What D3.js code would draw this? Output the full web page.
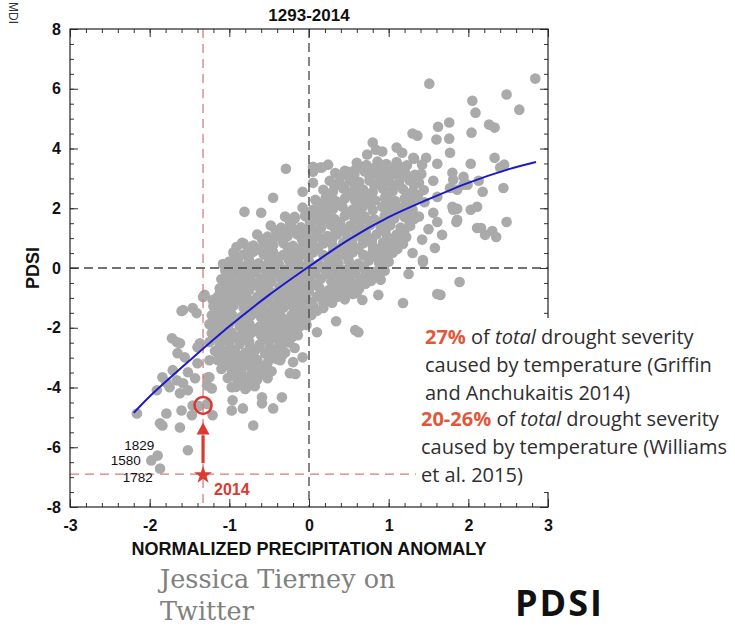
<!DOCTYPE html>
<html>
<head>
<meta charset="utf-8">
<script src="https://cdn.jsdelivr.net/npm/d3@7"></script>
<style>
  html, body { margin: 0; padding: 0; background: #fff; }
  svg { display: block; }
</style>
</head>
<body>
<svg id="chart" width="735" height="628"></svg>
<script>
// ---- data -------------------------------------------------------------
const chartTitle = "1293-2014";
const xTickValues = [-3, -2, -1, 0, 1, 2, 3];
const yTickValues = [-8, -6, -4, -2, 0, 2, 4, 6, 8];
const xAxisTitle = "NORMALIZED PRECIPITATION ANOMALY";
const yAxisTitle = "PDSI";

// [normalized precipitation anomaly, PDSI], one pair per year
const yearPoints = [
  // scattered years, upper right
  [1.51,6.17],[2.84,6.34],[2.48,5.81],[2.05,5.6],[2.64,5.3],[2.09,5.2],[2.26,4.8],[2.33,4.7],
  [1.76,4.87],[1.62,4.73],[2.04,4.53],[1.6,4.3],[1.76,4.33],[1.3,4.5],[1.36,4.43],[0.8,4.2],
  [0.73,3.8],[0.84,3.96],[0.92,3.9],[1.1,4.03],[1.17,3.86],[1.77,3.86],[1.32,3.66],[1.47,3.69],
  [1.31,3.69],[1.42,3.46],[1.61,3.49],[2.03,3.49],[2.33,3.69],[2.45,3.46],[2.4,3.36],[1.41,3.15],
  [1.8,3.19],[1.94,3.05],[2.13,2.92],[1.99,2.79],[1.56,2.92],[2.18,2.55],[2.44,2.68],[1.77,2.68],
  [1.81,2.95],[1.61,2.38],[1.86,2.62],[1.94,2.79],[1.56,1.85],[1.61,1.54],[1.81,1.95],[1.86,1.61],
  [1.67,1.11],[1.58,0.67],[1.43,0.27],[1.18,1.21],[1.11,0.94],[2.11,1.34],[2.03,1.95],[2.11,2.05],
  [1.8,2.05],[1.86,1.98],[1.85,1.54],[2.48,1.54],[2.16,1.34],[2.21,1.11],[2.3,1.24],[2.35,1.04],
  [1.89,-0.47],[1.65,-0.9],[1.43,0.2],[1.61,-0.87],[1.18,-1.17],[0.87,-0.9],
  [1.45,2.2],[1.5,1.3],[1.38,1.72],[1.42,0.95],[1.3,0.5],[1.25,-0.2],
  // scattered years, lower right of the cloud
  [0.62,-2.15],[0.34,-1.78],[0.1,-2.15],[-0.03,-1.91],[-0.05,-1.74],[-0.2,-1.31],[-0.28,-2.08],
  [-0.21,-2.31],[-0.18,-2.68],[-0.08,-2.99],[-0.34,-2.58],[-0.24,-3.52],[-0.17,-3.55],[-0.36,-3.09],
  [0.6,-0.84],[0.67,-1.07],[0.26,-0.97],[0.18,-1.17],[-0.53,-3.5],[-0.62,-3.32],[-0.45,-3.02],
  [-0.2,-3.15],[-0.34,-4.33],[-0.59,-4.33],[-0.14,-2.25],[0.58,-2.08],
  // scattered years, upper left of the cloud
  [-0.29,3.32],[0.05,3.39],[0.16,3.36],[0.24,3.46],[-0.45,2.35],[-0.81,1.88],[-0.6,1.85],
  [-0.18,1.71],[0.05,1.71],[-0.91,0.7],[-0.84,0.84],[-1.08,0.13],[0.14,3.36],[0.05,3.22],
  [0.49,3.22],[0.58,3.29],[0.05,2.85],[-0.08,2.55],[0.05,1.78],
  // scattered years, left and lower left
  [-1.33,-0.97],[-1.31,-0.9],[-1.58,-1.41],[-1.46,-1.34],[-1.41,-1.51],[-1.12,-0.84],[-1.21,-1.07],
  [-1.6,-1.44],[-1.72,-2.35],[-1.62,-2.52],[-1.66,-2.48],[-1.65,-2.85],[-1.56,-2.99],[-1.37,-2.52],
  [-1.71,-3.42],[-1.84,-3.66],[-1.79,-3.83],[-1.91,-4.09],[-1.75,-3.99],[-1.66,-3.76],[-1.58,-3.86],
  [-1.52,-3.49],[-1.43,-3.69],[-1.52,-4.09],[-1.62,-4.19],[-1.4,-2.65],[-1.4,-3.19],[-1.25,-3.09],
  [-1.27,-3.66],[-1.25,-3.66],[-1.28,-3.93],[-1.22,-4.03],[-0.91,-3.42],[-0.97,-3.99],[-0.78,-3.99],
  [-2.16,-4.87],[-1.79,-4.87],[-1.87,-5.2],[-1.84,-5.27],[-1.62,-5.34],[-1.6,-4.77],[-1.47,-4.93],
  [-1.46,-4.6],[-1.21,-4.93],[-1.28,-4.55],[-1.38,-4.62],[-0.96,-4.43],[-0.97,-4.77],[-0.83,-4.7],
  [-0.7,-5.27],[-0.59,-4.53],[-0.45,-4.7],[-1.52,-6.1],[-1.98,-6.44],[-1.9,-6.28],[-1.87,-6.71],
  // the main cloud
  [0.6,3.52],[0.72,3.45],[0.86,3.56],[0.97,3.48],[1.1,3.55],[1.23,3.44],
  [0.33,3.18],[0.45,3.25],[0.57,3.14],[0.7,3.23],[0.83,3.17],[0.95,3.27],[1.07,3.15],[1.2,3.22],[1.33,3.12],
  [0.26,2.92],[0.38,2.85],[0.51,2.96],[0.63,2.88],[0.76,2.93],[0.88,2.84],[1.0,2.95],[1.13,2.87],[1.26,2.94],[1.38,2.86],
  [0.18,2.62],[0.3,2.55],[0.43,2.66],[0.56,2.58],[0.68,2.63],[0.8,2.54],[0.93,2.65],[1.05,2.57],[1.18,2.64],[1.3,2.55],[1.44,2.61],
  [0.08,2.28],[0.21,2.35],[0.33,2.25],[0.45,2.33],[0.58,2.26],[0.7,2.36],[0.83,2.27],[0.95,2.34],[1.08,2.24],[1.2,2.32],[1.33,2.27],
  [-0.08,2.02],[0.05,1.95],[0.17,2.04],[0.3,1.97],[0.42,2.05],[0.55,1.96],[0.67,2.03],[0.8,1.94],[0.92,2.05],[1.05,1.97],[1.17,2.03],[1.3,1.95],
  [-0.3,1.72],[-0.18,1.65],[-0.05,1.74],[0.07,1.66],[0.2,1.73],[0.32,1.64],[0.45,1.75],[0.57,1.67],[0.7,1.72],[0.82,1.63],[0.95,1.74],[1.07,1.66],[1.2,1.71],[1.32,1.64],
  [-0.48,1.42],[-0.35,1.35],[-0.23,1.44],[-0.1,1.36],[0.02,1.43],[0.15,1.34],[0.27,1.45],[0.4,1.37],[0.52,1.42],[0.65,1.33],[0.77,1.44],[0.9,1.36],[1.02,1.43],[1.15,1.35],[1.27,1.41],
  [-0.65,1.12],[-0.52,1.05],[-0.4,1.14],[-0.27,1.06],[-0.15,1.13],[-0.02,1.04],[0.1,1.15],[0.23,1.07],[0.35,1.12],[0.48,1.03],[0.6,1.14],[0.73,1.06],[0.85,1.13],[0.98,1.05],[1.1,1.12],[1.22,1.04],
  [-0.82,0.82],[-0.7,0.75],[-0.57,0.84],[-0.45,0.76],[-0.32,0.83],[-0.2,0.74],[-0.07,0.85],[0.05,0.77],[0.18,0.82],[0.3,0.73],[0.43,0.84],[0.55,0.76],[0.68,0.83],[0.8,0.74],[0.93,0.85],[1.05,0.77],[1.18,0.81],
  [-0.95,0.52],[-0.82,0.45],[-0.7,0.54],[-0.57,0.46],[-0.45,0.53],[-0.32,0.44],[-0.2,0.55],[-0.07,0.47],[0.05,0.52],[0.18,0.43],[0.3,0.54],[0.43,0.46],[0.55,0.53],[0.68,0.44],[0.8,0.55],[0.93,0.47],[1.05,0.51],
  [-1.0,0.22],[-0.88,0.15],[-0.75,0.24],[-0.63,0.16],[-0.5,0.23],[-0.38,0.14],[-0.25,0.25],[-0.13,0.17],[0.0,0.22],[0.12,0.13],[0.25,0.24],[0.37,0.16],[0.5,0.23],[0.62,0.14],[0.75,0.25],[0.88,0.17],[1.0,0.21],
  [-1.05,-0.08],[-0.92,-0.15],[-0.8,-0.06],[-0.67,-0.14],[-0.55,-0.07],[-0.42,-0.16],[-0.3,-0.05],[-0.17,-0.13],[-0.05,-0.08],[0.08,-0.17],[0.2,-0.06],[0.33,-0.14],[0.45,-0.07],[0.58,-0.16],[0.7,-0.05],[0.83,-0.13],[0.95,-0.09],
  [-1.1,-0.38],[-0.97,-0.45],[-0.85,-0.36],[-0.72,-0.44],[-0.6,-0.37],[-0.47,-0.46],[-0.35,-0.35],[-0.22,-0.43],[-0.1,-0.38],[0.03,-0.47],[0.15,-0.36],[0.28,-0.44],[0.4,-0.37],[0.53,-0.46],[0.65,-0.35],[0.78,-0.43],[0.9,-0.39],
  [-1.12,-0.68],[-1.0,-0.75],[-0.87,-0.66],[-0.75,-0.74],[-0.62,-0.67],[-0.5,-0.76],[-0.37,-0.65],[-0.25,-0.73],[-0.12,-0.68],[0.0,-0.77],[0.13,-0.66],[0.25,-0.74],[0.38,-0.67],[0.5,-0.75],[0.63,-0.69],
  [-1.15,-0.98],[-1.02,-1.05],[-0.9,-0.96],[-0.77,-1.04],[-0.65,-0.97],[-0.52,-1.06],[-0.4,-0.95],[-0.27,-1.03],[-0.15,-0.98],[-0.02,-1.07],[0.1,-0.96],[0.23,-1.04],[0.35,-0.97],[0.45,-1.05],
  [-1.2,-1.28],[-1.07,-1.35],[-0.95,-1.26],[-0.82,-1.34],[-0.7,-1.27],[-0.57,-1.36],[-0.45,-1.25],[-0.32,-1.33],[-0.2,-1.28],[-0.07,-1.37],[0.05,-1.26],[0.18,-1.34],
  [-1.22,-1.58],[-1.1,-1.65],[-0.97,-1.56],[-0.85,-1.64],[-0.72,-1.57],[-0.6,-1.66],[-0.47,-1.55],[-0.35,-1.63],[-0.22,-1.58],[-0.1,-1.67],[0.03,-1.57],
  [-1.25,-1.88],[-1.12,-1.95],[-1.0,-1.86],[-0.87,-1.94],[-0.75,-1.87],[-0.62,-1.96],[-0.5,-1.85],[-0.37,-1.93],[-0.25,-1.88],[-0.12,-1.97],
  [-1.22,-2.18],[-1.1,-2.25],[-0.97,-2.16],[-0.85,-2.24],[-0.72,-2.17],[-0.6,-2.26],[-0.47,-2.15],[-0.35,-2.23],[-0.22,-2.19],
  [-1.25,-2.48],[-1.12,-2.55],[-1.0,-2.46],[-0.87,-2.54],[-0.75,-2.47],[-0.62,-2.56],[-0.5,-2.45],[-0.37,-2.53],[-0.25,-2.49],
  [-1.18,-2.78],[-1.05,-2.85],[-0.93,-2.76],[-0.8,-2.84],[-0.68,-2.77],[-0.55,-2.86],[-0.43,-2.75],[-0.3,-2.83],
  [-1.15,-3.08],[-1.02,-3.15],[-0.9,-3.06],[-0.77,-3.14],[-0.65,-3.07],[-0.52,-3.16],[-0.4,-3.05],
  [-1.1,-3.38],[-0.97,-3.45],[-0.85,-3.36],[-0.72,-3.44],[-0.6,-3.37],[-0.47,-3.46],
  [-1.02,-3.68],[-0.9,-3.75],[-0.77,-3.66],[-0.65,-3.74],[-0.52,-3.69],
  [-0.92,-3.98],[-0.8,-4.05],[-0.68,-3.96],
  // the main cloud, years between the rows above
  [0.66,3.36],[0.79,3.33],[0.91,3.38],[1.04,3.34],[1.16,3.37],
  [0.39,3.04],[0.51,3.07],[0.76,3.06],[0.89,3.02],[1.01,3.07],[1.14,3.04],[1.26,3.06],
  [0.32,2.76],[0.44,2.73],[0.57,2.77],[0.82,2.77],[0.94,2.73],[1.07,2.76],[1.32,2.77],
  [0.24,2.46],[0.49,2.47],[0.62,2.44],[0.74,2.46],[0.99,2.47],[1.24,2.46],[1.37,2.44],
  [0.14,2.16],[0.27,2.13],[0.39,2.17],[0.64,2.16],[0.77,2.13],[1.02,2.14],[1.27,2.13],
  [-0.02,1.86],[0.11,1.83],[0.23,1.87],[0.48,1.86],[0.61,1.83],[0.98,1.84],[1.11,1.86],[1.23,1.83],
  [-0.24,1.56],[0.01,1.57],[0.14,1.54],[0.26,1.56],[0.39,1.53],[0.64,1.54],[0.76,1.56],[0.89,1.53],[1.01,1.57],[1.26,1.56],
  [-0.42,1.26],[-0.29,1.23],[-0.17,1.27],[-0.04,1.24],[0.08,1.26],[0.33,1.27],[0.46,1.24],[0.58,1.26],[0.71,1.23],[0.96,1.24],[1.2,1.26],
  [-0.59,0.96],[-0.46,0.93],[-0.34,0.97],[-0.09,0.96],[0.04,0.93],[0.16,0.97],[0.29,0.94],[0.54,0.93],[0.67,0.97],[0.79,0.94],[1.04,0.93],
  [-0.76,0.66],[-0.64,0.63],[-0.51,0.67],[-0.26,0.66],[-0.14,0.63],[-0.01,0.67],[0.11,0.64],[0.36,0.63],[0.49,0.67],[0.62,0.64],[0.87,0.63],[0.99,0.67],[1.11,0.64],
  [-0.89,0.36],[-0.76,0.33],[-0.51,0.34],[-0.39,0.36],[-0.26,0.33],[-0.14,0.37],[-0.01,0.34],[0.24,0.33],[0.36,0.37],[0.49,0.34],[0.74,0.33],[0.86,0.37],[0.98,0.34],
  [-0.94,0.06],[-0.81,0.03],[-0.69,0.07],[-0.56,0.04],[-0.44,0.06],[-0.19,0.07],[-0.06,0.04],[0.06,0.06],[0.19,0.03],[0.31,0.07],[0.56,0.06],[0.69,0.03],[0.94,0.04],
  [-0.99,-0.24],[-0.86,-0.27],[-0.74,-0.23],[-0.49,-0.24],[-0.36,-0.27],[-0.24,-0.23],[-0.11,-0.26],[0.01,-0.24],[0.26,-0.23],[0.39,-0.26],[0.51,-0.24],[0.76,-0.23],[0.88,-0.26],
  [-1.04,-0.54],[-0.91,-0.57],[-0.79,-0.53],[-0.66,-0.56],[-0.54,-0.54],[-0.29,-0.53],[-0.16,-0.56],[-0.04,-0.54],[0.09,-0.57],[0.34,-0.56],[0.46,-0.54],[0.59,-0.57],[0.71,-0.53],
  [-1.06,-0.84],[-0.94,-0.87],[-0.81,-0.83],[-0.56,-0.84],[-0.44,-0.87],[-0.31,-0.83],[-0.19,-0.86],[-0.06,-0.84],[0.19,-0.83],[0.31,-0.86],[0.44,-0.84],[0.55,-0.87],
  [-1.09,-1.14],[-0.96,-1.17],[-0.84,-1.13],[-0.71,-1.16],[-0.59,-1.14],[-0.34,-1.13],[-0.21,-1.16],[-0.09,-1.14],[0.04,-1.17],[0.29,-1.16],
  [-1.14,-1.44],[-1.01,-1.47],[-0.76,-1.46],[-0.64,-1.44],[-0.51,-1.47],[-0.39,-1.43],[-0.14,-1.44],[-0.01,-1.47],[0.1,-1.43],
  [-1.16,-1.74],[-1.04,-1.77],[-0.91,-1.73],[-0.79,-1.76],[-0.54,-1.77],[-0.41,-1.73],[-0.29,-1.76],[-0.16,-1.74],[-0.04,-1.77],
  [-1.19,-2.04],[-1.06,-2.07],[-0.81,-2.06],[-0.69,-2.04],[-0.56,-2.07],[-0.44,-2.03],[-0.19,-2.04],
  [-1.16,-2.34],[-1.04,-2.37],[-0.91,-2.33],[-0.79,-2.36],[-0.54,-2.37],[-0.41,-2.33],[-0.29,-2.36],
  [-1.12,-2.64],[-0.99,-2.67],[-0.74,-2.66],[-0.62,-2.64],[-0.49,-2.67],[-0.37,-2.63],
  [-1.09,-2.94],[-0.96,-2.97],[-0.84,-2.93],[-0.71,-2.96],[-0.46,-2.97],[-0.34,-2.93],
  [-1.04,-3.24],[-0.91,-3.27],[-0.79,-3.23],[-0.66,-3.26],[-0.54,-3.24],
  [-0.96,-3.54],[-0.84,-3.57],[-0.71,-3.53],[-0.59,-3.56],
  [-0.86,-3.84],[-0.74,-3.87]
];

// fitted PDSI response to precipitation
const fitPrecip = [-2.2, -2.0, -1.5, -1.0, -0.5, 0.0, 0.5, 1.0, 1.5, 2.0, 2.5, 2.85];
const fitPdsi   = [-4.85, -4.3, -3.1, -1.95, -0.9, 0.05, 0.95, 1.7, 2.3, 2.85, 3.3, 3.55];

// 2014: observed PDSI and PDSI without the temperature contribution
const year2014Label = "2014";
const year2014Precip = -1.33;
const year2014Pdsi = -6.9;
const year2014PdsiNoTemp = -4.6;

// driest earlier years
const extremeYears = ["1829", "1580", "1782"];
const extremeYearsPdsi = [-5.94, -6.44, -7.0];
const extremeYearsPrecip = [-2.13, -2.3, -2.15];

// ---- drawing ----------------------------------------------------------
(function draw() {
const svg = d3.select("#chart");
const W = 735, H = 628;
svg.append("rect").attr("width", W).attr("height", H).attr("fill", "#fff");

const plotLeft = 70, plotRight = 548, plotTop = 29, plotBottom = 507;
const x = d3.scaleLinear().domain([-3, 3]).range([plotLeft, plotRight]);
const y = d3.scaleLinear().domain([-8, 8]).range([plotBottom, plotTop]);

const axisFont = "'Liberation Sans', Arial, Helvetica, sans-serif";
const red = "#d93a32";
const dashRed = "#d67c7c";

// title
svg.append("text")
  .attr("x", x(0)).attr("y", 21)
  .attr("text-anchor", "middle")
  .attr("font-family", axisFont).attr("font-weight", "bold").attr("font-size", 17)
  .attr("fill", "#111")
  .text(chartTitle);

// small vertical credit at the top left
svg.append("text")
  .attr("transform", "translate(9,2) rotate(90)")
  .attr("font-family", axisFont).attr("font-size", 12)
  .attr("fill", "#333")
  .text("MDI");

// points
const plot = svg.append("g");
plot.selectAll("circle.pt")
  .data(yearPoints)
  .join("circle")
  .attr("class", "pt")
  .attr("cx", d => x(d[0]))
  .attr("cy", d => y(d[1]))
  .attr("r", 5.3)
  .attr("fill", "#aaaaaa");

// reference lines
plot.append("line")
  .attr("x1", x(0)).attr("x2", x(0)).attr("y1", plotTop).attr("y2", plotBottom)
  .attr("stroke", "#444").attr("stroke-width", 1.3).attr("stroke-dasharray", "9,5");
plot.append("line")
  .attr("x1", plotLeft).attr("x2", plotRight).attr("y1", y(0)).attr("y2", y(0))
  .attr("stroke", "#444").attr("stroke-width", 1.3).attr("stroke-dasharray", "9,5");
plot.append("line")
  .attr("x1", x(year2014Precip)).attr("x2", x(year2014Precip)).attr("y1", plotTop).attr("y2", plotBottom)
  .attr("stroke", dashRed).attr("stroke-width", 1.3).attr("stroke-dasharray", "9,6");
plot.append("line")
  .attr("x1", plotLeft).attr("x2", plotRight).attr("y1", y(year2014Pdsi)).attr("y2", y(year2014Pdsi))
  .attr("stroke", dashRed).attr("stroke-width", 1.3).attr("stroke-dasharray", "9,6");

// fitted curve
const fitLine = d3.line()
  .x((d, i) => x(fitPrecip[i]))
  .y(d => y(d))
  .curve(d3.curveCatmullRom);
plot.append("path")
  .attr("d", fitLine(fitPdsi))
  .attr("fill", "none")
  .attr("stroke", "#1a1ac8")
  .attr("stroke-width", 2);

// axes: major and minor ticks on all four sides, pointing inward
const fmt = d => String(d);
const xMinor = d3.range(-30, 31, 2).map(v => v / 10);
const yMinor = d3.range(-16, 17, 1).map(v => v / 2);

function styleAxis(g) {
  g.select(".domain").remove();
  g.selectAll(".tick line").attr("stroke", "#333").attr("stroke-width", 1);
  g.selectAll(".tick text")
    .attr("font-family", axisFont).attr("font-weight", "bold").attr("font-size", 16).attr("fill", "#111");
}

svg.append("g").attr("transform", `translate(0,${plotBottom})`)
  .call(d3.axisBottom(x).tickValues(xMinor).tickSize(-4).tickFormat("")).call(styleAxis);
svg.append("g").attr("transform", `translate(0,${plotBottom})`)
  .call(d3.axisBottom(x).tickValues(xTickValues).tickSizeInner(-8).tickSizeOuter(0).tickPadding(13).tickFormat(fmt)).call(styleAxis);
svg.append("g").attr("transform", `translate(0,${plotTop})`)
  .call(d3.axisTop(x).tickValues(xMinor).tickSize(-4).tickFormat("")).call(styleAxis);
svg.append("g").attr("transform", `translate(0,${plotTop})`)
  .call(d3.axisTop(x).tickValues(xTickValues).tickSize(-8).tickFormat("")).call(styleAxis);

svg.append("g").attr("transform", `translate(${plotLeft},0)`)
  .call(d3.axisLeft(y).tickValues(yMinor).tickSize(-4).tickFormat("")).call(styleAxis);
svg.append("g").attr("transform", `translate(${plotLeft},0)`)
  .call(d3.axisLeft(y).tickValues(yTickValues).tickSizeInner(-8).tickSizeOuter(0).tickPadding(9).tickFormat(fmt)).call(styleAxis);
svg.append("g").attr("transform", `translate(${plotRight},0)`)
  .call(d3.axisRight(y).tickValues(yMinor).tickSize(-4).tickFormat("")).call(styleAxis);
svg.append("g").attr("transform", `translate(${plotRight},0)`)
  .call(d3.axisRight(y).tickValues(yTickValues).tickSize(-8).tickFormat("")).call(styleAxis);

// frame
svg.append("rect")
  .attr("x", plotLeft).attr("y", plotTop).attr("width", plotRight - plotLeft).attr("height", plotBottom - plotTop)
  .attr("fill", "none").attr("stroke", "#222").attr("stroke-width", 1.2);

// axis titles
svg.append("text")
  .attr("x", x(0)).attr("y", 555)
  .attr("text-anchor", "middle")
  .attr("font-family", axisFont).attr("font-weight", "bold").attr("font-size", 18).attr("fill", "#111")
  .text(xAxisTitle);
svg.append("text")
  .attr("transform", `translate(39,${y(0)}) rotate(-90)`)
  .attr("text-anchor", "middle")
  .attr("font-family", axisFont).attr("font-weight", "bold").attr("font-size", 18).attr("fill", "#111")
  .text(yAxisTitle);

// extreme-year labels
svg.selectAll("text.yr")
  .data(extremeYears)
  .join("text")
  .attr("class", "yr")
  .attr("x", (d, i) => x(extremeYearsPrecip[i]))
  .attr("y", (d, i) => y(extremeYearsPdsi[i]))
  .attr("dy", "0.35em")
  .attr("text-anchor", "middle")
  .attr("font-family", axisFont).attr("font-size", 13.5).attr("fill", "#111")
  .text(d => d);

// 2014 markers: observed value (star), value without warming (circle), arrow between
const cx14 = x(year2014Precip);
svg.append("circle")
  .attr("cx", cx14).attr("cy", y(year2014PdsiNoTemp)).attr("r", 8.5)
  .attr("fill", "none").attr("stroke", red).attr("stroke-width", 2.6);

const shaftBottom = y(year2014Pdsi) - 11;
const headBase = y(year2014PdsiNoTemp) + 29;
const headTip = y(year2014PdsiNoTemp) + 17;
svg.append("line")
  .attr("x1", cx14).attr("x2", cx14).attr("y1", shaftBottom).attr("y2", headBase + 1)
  .attr("stroke", red).attr("stroke-width", 3.2);
svg.append("path")
  .attr("d", `M${cx14 - 6.5},${headBase} L${cx14},${headTip} L${cx14 + 6.5},${headBase} Z`)
  .attr("fill", red);

svg.append("path")
  .attr("transform", `translate(${cx14},${y(year2014Pdsi) + 1})`)
  .attr("d", d3.symbol().type(d3.symbolStar).size(100)())
  .attr("fill", red);

svg.append("text")
  .attr("x", cx14 + 11).attr("y", y(year2014Pdsi) + 21)
  .attr("font-family", axisFont).attr("font-weight", "bold").attr("font-size", 16).attr("fill", red)
  .text(year2014Label);

// annotation panel
const noteFont = "'Open Sans', Lato, sans-serif";
const noteRed = "#e0583c";
svg.append("rect")
  .attr("x", 416).attr("y", 318).attr("width", W - 416).attr("height", 174)
  .attr("fill", "#fff");

const noteLines = [
  { x: 425, y: 344, parts: [["27%", "b"], [" of ", ""], ["total", "i"], [" drought severity", ""]] },
  { x: 425, y: 372, parts: [["caused by temperature (Griffin", ""]] },
  { x: 425, y: 400, parts: [["and Anchukaitis 2014)", ""]] },
  { x: 421, y: 426, parts: [["20-26%", "b"], [" of ", ""], ["total", "i"], [" drought severity", ""]] },
  { x: 421, y: 454, parts: [["caused by temperature (Williams", ""]] },
  { x: 421, y: 482, parts: [["et al. 2015)", ""]] }
];
noteLines.forEach(line => {
  const t = svg.append("text")
    .attr("x", line.x).attr("y", line.y)
    .attr("font-family", noteFont).attr("font-size", 20).attr("fill", "#2e2e2e")
    .style("white-space", "pre");
  line.parts.forEach(([s, st]) => {
    const ts = t.append("tspan").text(s);
    if (st === "b") ts.attr("font-weight", "bold").attr("fill", noteRed);
    if (st === "i") ts.attr("font-style", "italic");
  });
});

// credit and panel name
svg.append("text")
  .attr("x", 160).attr("y", 588)
  .attr("font-family", "'DejaVu Serif', serif").attr("font-size", 25.5).attr("fill", "#808080")
  .text("Jessica Tierney on");
svg.append("text")
  .attr("x", 160).attr("y", 620)
  .attr("font-family", "'DejaVu Serif', serif").attr("font-size", 25.5).attr("fill", "#808080")
  .text("Twitter");
svg.append("text")
  .attr("x", 515).attr("y", 616)
  .attr("font-family", "'Open Sans', sans-serif").attr("font-weight", "bold").attr("font-size", 36)
  .attr("letter-spacing", 2).attr("fill", "#111")
  .text("PDSI");
})();
</script>
</body>
</html>
